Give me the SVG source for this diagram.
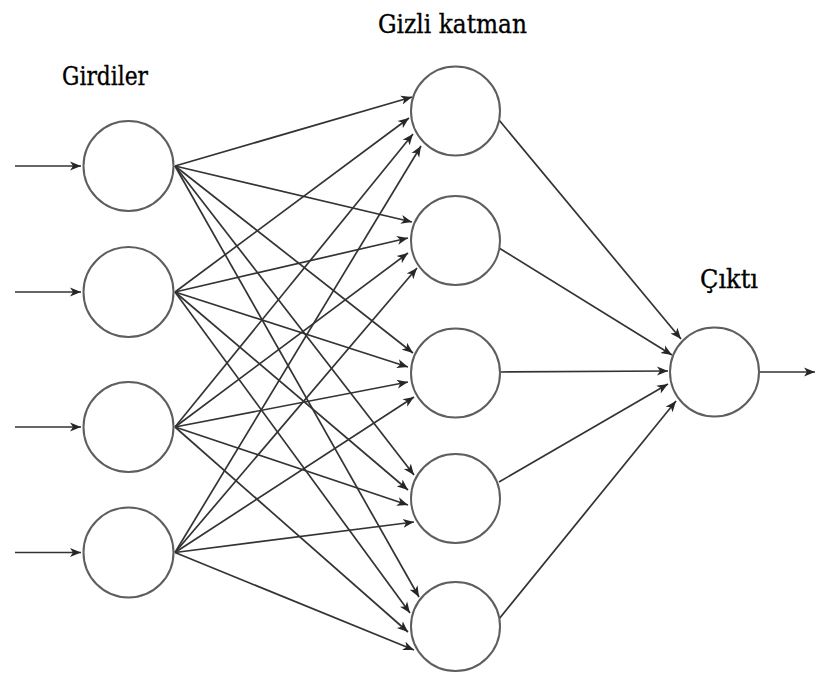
<svg xmlns="http://www.w3.org/2000/svg" width="816" height="675" viewBox="0 0 816 675">
  <style>
    .node { fill: #ffffff; stroke: #5e5e5e; stroke-width: 2; }
    .edge { fill: none; stroke: #333333; stroke-width: 1.7; marker-end: url(#arrow); }
    .label { font-family: "DejaVu Serif", "Liberation Serif", serif; fill: #000000; stroke: #000000; stroke-width: 0.35; }
  </style>
  <defs>
    <marker id="arrow" markerUnits="userSpaceOnUse" markerWidth="12" markerHeight="10" viewBox="0 0 12 10" refX="11" refY="5" orient="auto">
      <path d="M0,0.5 L11,5 L0,9.5 L3,5 z" fill="#262626"/>
    </marker>
  </defs>
  <rect width="816" height="675" fill="#ffffff"/>

  <!-- layer titles -->
  <text class="label" x="62" y="85" font-size="26" textLength="86" lengthAdjust="spacingAndGlyphs">Girdiler</text>
  <text class="label" x="378" y="33" font-size="26" textLength="149" lengthAdjust="spacingAndGlyphs">Gizli katman</text>
  <text class="label" x="700" y="288" font-size="26" textLength="58" lengthAdjust="spacingAndGlyphs">Çıktı</text>

  <g id="connectors">
    <!-- external inputs -->
    <line class="edge" x1="15" y1="166" x2="81" y2="166"/>
    <line class="edge" x1="15" y1="292" x2="81" y2="292"/>
    <line class="edge" x1="15" y1="427" x2="81" y2="427"/>
    <line class="edge" x1="15" y1="552.5" x2="81" y2="552.5"/>

    <!-- input 1 to hidden -->
    <line class="edge" x1="175" y1="166" x2="412" y2="97"/>
    <line class="edge" x1="175" y1="166" x2="412" y2="222"/>
    <line class="edge" x1="175" y1="166" x2="413" y2="353"/>
    <line class="edge" x1="175" y1="166" x2="414" y2="475"/>
    <line class="edge" x1="175" y1="166" x2="419" y2="597"/>
    <!-- input 2 to hidden -->
    <line class="edge" x1="175" y1="292" x2="409" y2="118"/>
    <line class="edge" x1="175" y1="292" x2="408" y2="238"/>
    <line class="edge" x1="175" y1="292" x2="408" y2="367"/>
    <line class="edge" x1="175" y1="292" x2="408" y2="490"/>
    <line class="edge" x1="175" y1="292" x2="410" y2="613"/>
    <!-- input 3 to hidden -->
    <line class="edge" x1="175" y1="427" x2="413" y2="134"/>
    <line class="edge" x1="175" y1="427" x2="408" y2="253"/>
    <line class="edge" x1="175" y1="427" x2="408" y2="382"/>
    <line class="edge" x1="175" y1="427" x2="408" y2="505"/>
    <line class="edge" x1="175" y1="427" x2="408" y2="632"/>
    <!-- input 4 to hidden -->
    <line class="edge" x1="175" y1="552.5" x2="421" y2="146"/>
    <line class="edge" x1="175" y1="552.5" x2="417" y2="268"/>
    <line class="edge" x1="175" y1="552.5" x2="414" y2="397"/>
    <line class="edge" x1="175" y1="552.5" x2="414" y2="522"/>
    <line class="edge" x1="175" y1="552.5" x2="414" y2="650"/>

    <!-- hidden to output -->
    <line class="edge" x1="499" y1="120" x2="681" y2="339"/>
    <line class="edge" x1="499" y1="248" x2="672" y2="355"/>
    <line class="edge" x1="500" y1="372" x2="668" y2="371"/>
    <line class="edge" x1="499" y1="482" x2="668" y2="384"/>
    <line class="edge" x1="499" y1="619" x2="676" y2="401"/>

    <!-- output -->
    <line class="edge" x1="759" y1="372" x2="815" y2="372"/>
  </g>

  <g id="input-1"><circle class="node" cx="128.5" cy="166" r="45"/></g>
  <g id="input-2"><circle class="node" cx="128.5" cy="292" r="45"/></g>
  <g id="input-3"><circle class="node" cx="128.5" cy="427" r="45"/></g>
  <g id="input-4"><circle class="node" cx="128.5" cy="552.5" r="45"/></g>

  <g id="hidden-1"><circle class="node" cx="455.5" cy="111" r="44.5"/></g>
  <g id="hidden-2"><circle class="node" cx="455.5" cy="240.5" r="44.5"/></g>
  <g id="hidden-3"><circle class="node" cx="455.5" cy="373" r="44.5"/></g>
  <g id="hidden-4"><circle class="node" cx="455.5" cy="498.5" r="44.5"/></g>
  <g id="hidden-5"><circle class="node" cx="455.5" cy="626.5" r="44.5"/></g>

  <g id="output"><circle class="node" cx="714.5" cy="372" r="44.5"/></g>
</svg>
